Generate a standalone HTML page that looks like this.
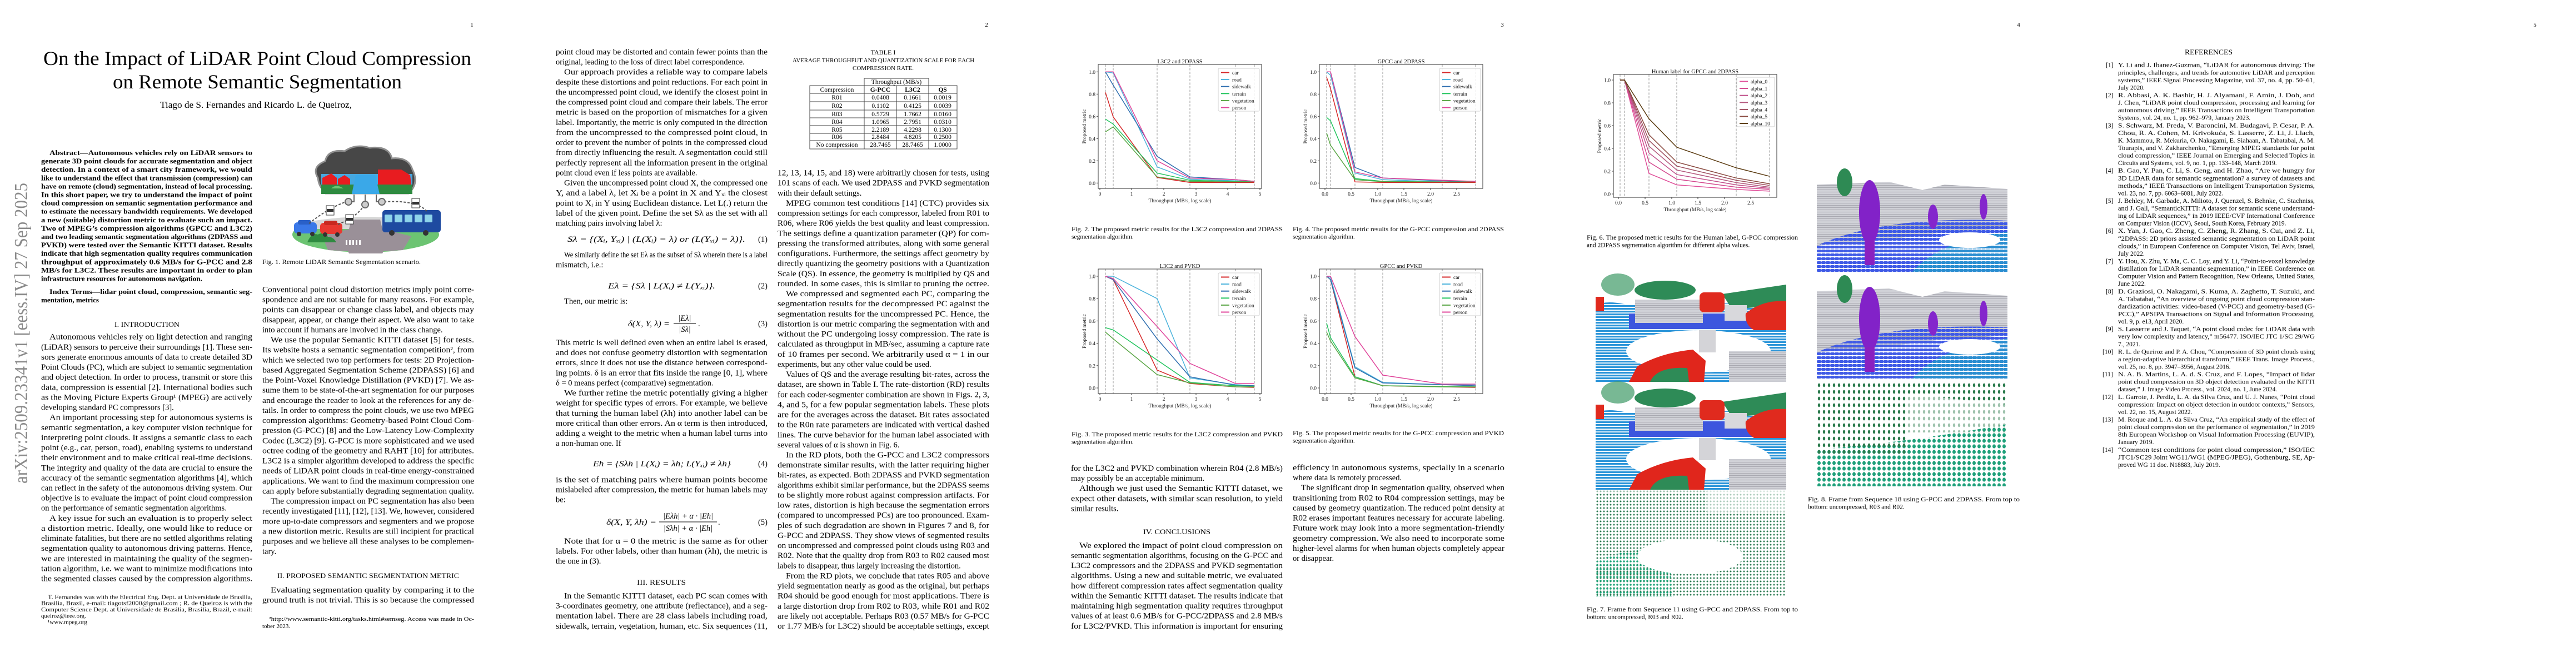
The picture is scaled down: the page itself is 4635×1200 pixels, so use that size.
<!DOCTYPE html>
<html><head><meta charset="utf-8">
<style>
html,body{margin:0;padding:0;background:#fff;}
body{width:4635px;height:1200px;overflow:hidden;}
svg{display:block;font-family:"Liberation Serif","DejaVu Serif",serif;}
</style></head>
<body>
<svg id="s" xmlns="http://www.w3.org/2000/svg" width="4635" height="1200" viewBox="0 0 4635 1200"></svg>
<script>
const S=[];
function esc(s){return s.replace(/&/g,'&amp;').replace(/</g,'&lt;').replace(/>/g,'&gt;');}
function t(x,y,s,fs,o){o=o||{};let a='<text x="'+x+'" y="'+y+'" font-size="'+fs+'"';
 if(o.w) a+=' textLength="'+o.w+'" lengthAdjust="spacingAndGlyphs"';
 if(o.anchor) a+=' text-anchor="'+o.anchor+'"';
 if(o.fw) a+=' font-weight="'+o.fw+'"';
 if(o.fill) a+=' fill="'+o.fill+'"';
 if(o.style) a+=' font-style="'+o.style+'"';
 if(o.ff) a+=' font-family="'+o.ff+'"';
 if(o.tr) a+=' transform="'+o.tr+'"';
 S.push(a+'>'+esc(s)+'</text>');}
function col(x,w,y0,dy,lines,fs,o){o=o||{};lines.forEach((l,i)=>{let ind=0,just=true;
 if(l[0]=='^'){ind=(o.ind||15);l=l.slice(1);} if(l.endsWith('$')){just=false;l=l.slice(0,-1);}
 const y=y0+i*dy+(o.bo===undefined?5:o.bo);
 t(x+ind,y,l,fs,Object.assign({},o,{w:just?w-ind:0}));});}
function P(s){S.push(s);}

[[849,'1'],[1775,'2'],[2703,'3'],[3632,'4'],[4561,'5']].forEach(p=>t(p[0],48,p[1],11,{anchor:'middle'}));
t(0,0,'arXiv:2509.23341v1  [eess.IV]  27 Sep 2025',34,{w:541,fill:'#8a8a8a',tr:'translate(49,870) rotate(-90)'});

t(78,117,'On the Impact of LiDAR Point Cloud Compression',36,{w:770});
t(203,159,'on Remote Semantic Segmentation',36,{w:520});
t(288,194,'Tiago de S. Fernandes and Ricardo L. de Queiroz,',16.5,{w:345});

col(74,380,275,15.1,[
'^Abstract—Autonomous vehicles rely on LiDAR sensors to',
'generate 3D point clouds for accurate segmentation and object',
'detection. In a context of a smart city framework, we would',
'like to understand the effect that transmission (compression) can',
'have on remote (cloud) segmentation, instead of local processing.',
'In this short paper, we try to understand the impact of point',
'cloud compression on semantic segmentation performance and',
'to estimate the necessary bandwidth requirements. We developed',
'a new (suitable) distortion metric to evaluate such an impact.',
'Two of MPEG\u2019s compression algorithms (GPCC and L3C2)',
'and two leading semantic segmentation algorithms (2DPASS and',
'PVKD) were tested over the Semantic KITTI dataset. Results',
'indicate that high segmentation quality requires communication',
'throughput of approximately 0.6 MB/s for G-PCC and 2.8',
'MB/s for L3C2. These results are important in order to plan',
'infrastructure resources for autonomous navigation.$'],13,{fw:'bold',bo:4});
col(74,380,525,15.1,['^Index Terms—lidar point cloud, compression, semantic seg-','mentation, metrics$'],13,{fw:'bold',bo:4});

t(206,588,'I. INTRODUCTION',13,{w:117});
col(74,380,605.7,18.12,[
'^Autonomous vehicles rely on light detection and ranging',
'(LiDAR) sensors to perceive their surroundings [1]. These sen-',
'sors generate enormous amounts of data to create detailed 3D',
'Point Clouds (PC), which are subject to semantic segmentation',
'and object detection. In order to process, transmit or store this',
'data, compression is essential [2]. International bodies such',
'as the Moving Picture Experts Group\u00b9 (MPEG) are actively',
'developing standard PC compressors [3].$',
'^An important processing step for autonomous systems is',
'semantic segmentation, a key computer vision technique for',
'interpreting point clouds. It assigns a semantic class to each',
'point (e.g., car, person, road), enabling systems to understand',
'their environment and to make critical real-time decisions.',
'The integrity and quality of the data are crucial to ensure the',
'accuracy of the semantic segmentation algorithms [4], which',
'can reflect in the safety of the autonomous driving system. Our',
'objective is to evaluate the impact of point cloud compression',
'on the performance of semantic segmentation algorithms.$',
'^A key issue for such an evaluation is to properly select',
'a distortion metric. Ideally, one would like to reduce or',
'eliminate fatalities, but there are no settled algorithms relating',
'segmentation quality to autonomous driving patterns. Hence,',
'we are interested in maintaining the quality of the segmen-',
'tation algorithm, i.e. we want to minimize modifications into',
'the segmented classes caused by the compression algorithms.'],14.5);
col(74,380,1073.4,11.3,[
'^T. Fernandes was with the Electrical Eng. Dept. at Universidade de Brasilia,',
'Brasilia, Brazil, e-mail: tiagotsf2000@gmail.com ; R. de Queiroz is with the',
'Computer Science Dept. at Universidade de Brasilia, Brasilia, Brazil, e-mail:',
'queiroz@ieee.org.$','^\u00b9www.mpeg.org$'],11,{bo:4,ind:12});

col(472,381,520.5,18.12,[
'Conventional point cloud distortion metrics imply point corre-',
'spondence and are not suitable for many reasons. For example,',
'points can disappear or change class label, and objects may',
'disappear, appear, or change their aspect. We also want to take',
'into account if humans are involved in the class change.$',
'^We use the popular Semantic KITTI dataset [5] for tests.',
'Its website hosts a semantic segmentation competition\u00b2, from',
'which we selected two top performers for tests: 2D Projection-',
'based Aggregated Segmentation Scheme (2DPASS) [6] and',
'the Point-Voxel Knowledge Distillation (PVKD) [7]. We as-',
'sume them to be state-of-the-art segmentation for our purposes',
'and encourage the reader to look at the references for any de-',
'tails. In order to compress the point clouds, we use two MPEG',
'compression algorithms: Geometry-based Point Cloud Com-',
'pression (G-PCC) [8] and the Low-Latency Low-Complexity',
'Codec (L3C2) [9]. G-PCC is more sophisticated and we used',
'octree coding of the geometry and RAHT [10] for attributes.',
'L3C2 is a simpler algorithm developed to address the specific',
'needs of LiDAR point clouds in real-time energy-constrained',
'applications. We want to find the maximum compression one',
'can apply before substantially degrading segmentation quality.',
'^The compression impact on PC segmentation has also been',
'recently investigated [11], [12], [13]. We, however, considered',
'more up-to-date compressors and segmenters and we propose',
'a new distortion metric. Results are still incipient for practical',
'purposes and we believe all these analyses to be complemen-',
'tary.$'],14.5);
t(499,1040,'II. PROPOSED SEMANTIC SEGMENTATION METRIC',13,{w:327});
col(472,381,1061,18.12,['^Evaluating segmentation quality by comparing it to the','ground truth is not trivial. This is so because the compressed'],14.5);
col(472,381,1113,13.2,['^\u00b2http://www.semantic-kitti.org/tasks.html#semseg. Access was made in Oc-','tober 2023.$'],11,{bo:4,ind:12});

P(`<g>
<ellipse cx="658" cy="422" rx="132" ry="32" fill="#6cc472"/>
<path d="M560 398 Q658 382 760 398 L770 412 L545 412 Z" fill="#d8d8d8"/>
<path d="M632 395 L684 395 L688 412 L740 425 L725 450 L690 452 L688 456 L628 456 L626 452 L590 450 L580 425 L628 412 Z" fill="#9a9098"/>
<g fill="#fff"><rect x="622" y="432" width="3" height="9"/><rect x="628" y="432" width="3" height="9"/><rect x="634" y="432" width="3" height="9"/><rect x="640" y="432" width="3" height="9"/><rect x="646" y="432" width="3" height="9"/></g>
<path d="M553 436 Q560 418 572 422 Q582 416 590 426 Q600 426 605 436 Z" fill="#2e8a40"/>
<rect x="529" y="400" width="41" height="20" rx="6" fill="#3a78e8"/><rect x="536" y="396" width="24" height="8" rx="3" fill="#2a60c8"/>
<circle cx="538" cy="421" r="4" fill="#333"/><circle cx="562" cy="421" r="4" fill="#333"/>
<rect x="576" y="401" width="40" height="20" rx="6" fill="#e83830"/><rect x="583" y="397" width="24" height="8" rx="3" fill="#c82820"/>
<circle cx="585" cy="422" r="4" fill="#333"/><circle cx="607" cy="422" r="4" fill="#333"/>
<rect x="688" y="378" width="105" height="40" rx="5" fill="#1e4aa0"/>
<g fill="#8ed4ea"><rect x="692" y="386" width="14" height="14" rx="2"/><rect x="710" y="386" width="14" height="14" rx="2"/><rect x="728" y="386" width="14" height="14" rx="2"/><rect x="746" y="386" width="14" height="14" rx="2"/><rect x="764" y="386" width="14" height="14" rx="2"/></g>
<circle cx="705" cy="419" r="5" fill="#333"/><circle cx="766" cy="419" r="5" fill="#333"/>
<path d="M585 348 L595 348 Q575 345 572 320 Q560 300 585 290 Q590 268 620 272 Q640 258 665 266 Q700 262 705 285 Q735 282 742 305 Q755 330 735 348 Z" fill="#474747" stroke="#8f8f8f" stroke-width="3"/>
<rect x="578" y="313" width="164" height="36" fill="#46a8e0"/>
<rect x="578" y="332" width="164" height="17" fill="#2e8a40"/>
<path d="M640 315 L675 315 L683 349 L633 349 Z" fill="#3aa8e8"/>
<path d="M580 320 L596 312 L606 320 L606 332 L580 332 Z" fill="#e81c20"/>
<path d="M608 322 L620 315 L630 322 L630 332 L608 332 Z" fill="#e81c20"/>
<path d="M680 305 L722 305 L738 315 L740 332 L680 332 Z" fill="#e81c20"/>
<path d="M596 339 Q605 330 618 339 Z" fill="#6cc472"/>
<g fill="none" stroke="#666" stroke-width="2"><circle cx="627" cy="363" r="6" fill="#ccc"/><circle cx="657" cy="368" r="6" fill="#ccc"/><circle cx="687" cy="363" r="6" fill="#ccc"/>
<path d="M637 350 L637 363 L633 363 M657 350 L657 362 M677 350 L677 363 L681 363"/></g>
<g fill="none" stroke="#555" stroke-width="2" stroke-dasharray="4,3"><path d="M556 402 Q590 375 620 364"/><path d="M608 404 Q640 390 652 374"/><path d="M768 380 Q750 360 694 363"/></g>
<g fill="#fff" stroke="#333" stroke-width="1"><rect x="587" y="370" width="14" height="17"/><rect x="622" y="386" width="14" height="17"/><rect x="741" y="357" width="14" height="17"/></g>
<g fill="#333"><rect x="588" y="376" width="12" height="5"/><rect x="623" y="392" width="12" height="5"/><rect x="742" y="363" width="12" height="5"/></g>
</g>`);
t(472,475,'Fig. 1.  Remote LiDAR Semantic Segmentation scenario.',11.5,{w:285});

col(1000,381,93,18.12,[
'point cloud may be distorted and contain fewer points than the',
'original, leading to the loss of direct label correspondence.$',
'^Our approach provides a reliable way to compare labels',
'despite these distortions and point reductions. For each point in',
'the uncompressed point cloud, we identify the closest point in',
'the compressed point cloud and compare their labels. The error',
'metric is based on the proportion of mismatches for a given',
'label. Importantly, the metric is only computed in the direction',
'from the uncompressed to the compressed point cloud, in',
'order to prevent the number of points in the compressed cloud',
'from directly influencing the result. A segmentation could still',
'perfectly represent all the information present in the original',
'point cloud even if less points are available.$',
'^Given the uncompressed point cloud X, the compressed one',
'Y, and a label \u03bb, let X\u1d62 be a point in X and Y\u2093\u1d62 the closest',
'point to X\u1d62 in Y using Euclidean distance. Let L(.) return the',
'label of the given point. Define the set S\u03bb as the set with all',
'matching pairs involving label \u03bb:$'],14.5);
t(1021,435,'S\u03bb = {(X\u1d62, Y\u2093\u1d62) | (L(X\u1d62) = \u03bb) or (L(Y\u2093\u1d62) = \u03bb)}.',14.5,{w:320,style:'italic'});
t(1364,435,'(1)',14.5);
col(1000,381,458,18.12,['^We similarly define the set E\u03bb as the subset of S\u03bb wherein there is a label','mismatch, i.e.:$'],14.5);
t(1094,519,'E\u03bb = {S\u03bb | L(X\u1d62) \u2260 L(Y\u2093\u1d62)}.',14.5,{w:193,style:'italic'});t(1364,519,'(2)',14.5);
col(1000,381,541.5,18.12,['^Then, our metric is:$'],14.5);
t(1130,587,'\u03b4(X, Y, \u03bb) =',14.5,{w:75,style:'italic'});
t(1232,577,'|E\u03bb|',14.5,{anchor:'middle',style:'italic'});P('<line x1="1212" y1="582" x2="1252" y2="582" stroke="#000"/>');
t(1232,597,'|S\u03bb|',14.5,{anchor:'middle',style:'italic'});t(1256,587,'.',14.5);t(1364,587,'(3)',14.5);
col(1000,381,616,18.12,[
'This metric is well defined even when an entire label is erased,',
'and does not confuse geometry distortion with segmentation',
'errors, since it does not use the distance between correspond-',
'ing points. \u03b4 is an error that fits inside the range [0, 1], where',
'\u03b4 = 0 means perfect (comparative) segmentation.$',
'^We further refine the metric potentially giving a higher',
'weight for specific types of errors. For example, we believe',
'that turning the human label (\u03bbh) into another label can be',
'more critical than other errors. An \u03b1 term is then introduced,',
'adding a weight to the metric when a human label turns into',
'a non-human one. If$'],14.5);
t(1067,839,'Eh = {S\u03bbh | L(X\u1d62) = \u03bbh; L(Y\u2093\u1d62) \u2260 \u03bbh}',14.5,{w:248,style:'italic'});t(1364,839,'(4)',14.5);
col(1000,381,862.5,18.12,['is the set of matching pairs where human points become','mislabeled after compression, the metric for human labels may','be:$'],14.5);
t(1091,944,'\u03b4(X, Y, \u03bbh) =',14.5,{w:90,style:'italic'});
t(1238,933,'|E\u03bbh| + \u03b1 \u00b7 |Eh|',14.5,{anchor:'middle',style:'italic'});P('<line x1="1186" y1="939" x2="1290" y2="939" stroke="#000"/>');
t(1238,955,'|S\u03bbh| + \u03b1 \u00b7 |Eh|',14.5,{anchor:'middle',style:'italic'});t(1292,944,'.',14.5);t(1364,944,'(5)',14.5);
col(1000,381,973,18.12,['^Note that for \u03b1 = 0 the metric is the same as for other','labels. For other labels, other than human (\u03bbh), the metric is','the one in (3).$'],14.5);
t(1146,1052,'III. RESULTS',13,{w:88});
col(1000,381,1071.5,18.12,['^In the Semantic KITTI dataset, each PC scan comes with','3-coordinates geometry, one attribute (reflectance), and a seg-','mentation label. There are 28 class labels including road,','sidewalk, terrain, vegetation, human, etc. Six sequences (11,'],14.5);

t(1589,98,'TABLE I',12,{anchor:'middle'});
t(1426,112,'AVERAGE THROUGHPUT AND QUANTIZATION SCALE FOR EACH',11,{w:327});
t(1589,126,'COMPRESSION RATE.',11,{anchor:'middle'});
P('<g stroke="#444" stroke-width="1" fill="none"><rect x="1555" y="141" width="116" height="13"/><rect x="1457" y="154" width="265" height="114"/>'+
[168,183,198,212,226,240,253].map(y=>`<line x1="1457" y1="${y}" x2="1722" y2="${y}"/>`).join('')+
[1555,1613,1671].map(x=>`<line x1="${x}" y1="154" x2="${x}" y2="268"/>`).join('')+'</g>');
t(1613,151,'Throughput (MB/s)',11.5,{anchor:'middle'});
const rows=[['Compression','G-PCC','L3C2','QS'],['R01','0.0408','0.1661','0.0019'],['R02','0.1102','0.4125','0.0039'],['R03','0.5729','1.7662','0.0160'],['R04','1.0965','2.7951','0.0310'],['R05','2.2189','4.2298','0.1300'],['R06','2.8484','4.8205','0.2500'],['No compression','28.7465','28.7465','1.0000']];
const ry=[165,179,194,209,223,237,250,264];const cx=[1506,1584,1642,1696];
rows.forEach((r,i)=>r.forEach((c,j)=>t(cx[j],ry[i],c,11.5,{anchor:'middle',fw:(i==0&&j>0)?'bold':''})));

col(1399,381,310.4,18.3,['12, 13, 14, 15, and 18) were arbitrarily chosen for tests, using','101 scans of each. We used 2DPASS and PVKD segmentation','with their default settings.$'],14.5);
col(1399,381,365,18.12,[
'^MPEG common test conditions [14] (CTC) provides six',
'compression settings for each compressor, labeled from R01 to',
'R06, where R06 yields the best quality and least compression.',
'The settings define a quantization parameter (QP) for com-',
'pressing the transformed attributes, along with some general',
'configurations. Furthermore, the settings affect geometry by',
'directly quantizing the geometry positions with a Quantization',
'Scale (QS). In essence, the geometry is multiplied by QS and',
'rounded. In some cases, this is similar to pruning the octree.',
'^We compressed and segmented each PC, comparing the',
'segmentation results for the decompressed PC against the',
'segmentation results for the uncompressed PC. Hence, the',
'distortion is our metric comparing the segmentation with and',
'without the PC undergoing lossy compression. The rate is',
'calculated as throughput in MB/sec, assuming a capture rate',
'of 10 frames per second. We arbitrarily used \u03b1 = 1 in our',
'experiments, but any other value could be used.$',
'^Values of QS and the average resulting bit-rates, across the',
'dataset, are shown in Table I. The rate-distortion (RD) results',
'for each coder-segmenter combination are shown in Figs. 2, 3,',
'4, and 5, for a few popular segmentation labels. These plots',
'are for the averages across the dataset. Bit rates associated',
'to the R0n rate parameters are indicated with vertical dashed',
'lines. The curve behavior for the human label associated with',
'several values of \u03b1 is shown in Fig. 6.$',
'^In the RD plots, both the G-PCC and L3C2 compressors',
'demonstrate similar results, with the latter requiring higher',
'bit-rates, as expected. Both 2DPASS and PVKD segmentation',
'algorithms exhibit similar performance, but the 2DPASS seems',
'to be slightly more robust against compression artifacts. For',
'low rates, distortion is high because the segmentation errors',
'(compared to uncompressed PCs) are too pronounced. Exam-',
'ples of such degradation are shown in Figures 7 and 8, for',
'G-PCC and 2DPASS. They show views of segmented results',
'on uncompressed and compressed point clouds using R03 and',
'R02. Note that the quality drop from R03 to R02 caused most',
'labels to disappear, thus largely increasing the distortion.$',
'^From the RD plots, we conclude that rates R05 and above',
'yield segmentation nearly as good as the original, but perhaps',
'R04 should be good enough for most applications. There is',
'a large distortion drop from R02 to R03, while R01 and R02',
'are likely not acceptable. Perhaps R03 (0.57 MB/s for G-PCC',
'or 1.77 MB/s for L3C2) should be acceptable settings, except'],14.5);

function chart(c){
 const [x0,y0,x1,y1]=c.box, yz=c.yz, yo=c.yo, V=v=>yz-(yz-yo)*v;
 let g='<g>';
 c.xs.forEach(x=>g+=`<line x1="${x}" y1="${y0}" x2="${x}" y2="${y1}" stroke="#8a8a8a" stroke-width="0.9" stroke-dasharray="4,2.5"/>`);
 c.series.forEach((s,i)=>{g+=`<polyline fill="none" stroke="${s[0]}" stroke-width="1.5" points="${s[1].map((v,k)=>c.xs[k]+','+V(v).toFixed(1)).join(' ')}"/>`;});
 g+=`<rect x="${x0}" y="${y0}" width="${x1-x0}" height="${y1-y0}" fill="none" stroke="#333" stroke-width="1"/>`;
 const L=c.leg;g+=`<rect x="${L[0]}" y="${L[1]}" width="${L[2]}" height="${L[3]}" rx="2" fill="#fff" fill-opacity="0.85" stroke="#d0d0d0"/>`;
 c.series.forEach((s,i)=>{const y=L[1]+7.5+i*12.6;g+=`<line x1="${L[0]+5}" y1="${y}" x2="${L[0]+20}" y2="${y}" stroke="${s[0]}" stroke-width="2"/>`;});
 for(let k=0;k<=5;k++){const y=V(k/5);g+=`<line x1="${x0-3}" y1="${y}" x2="${x0}" y2="${y}" stroke="#333"/>`;}
 c.xt.forEach(p=>g+=`<line x1="${p[0]}" y1="${y1}" x2="${p[0]}" y2="${y1+3}" stroke="#333"/>`);
 P(g+'</g>');
 const ff='"DejaVu Sans","Liberation Sans",sans-serif';
 for(let k=0;k<=5;k++){t(x0-5,V(k/5)+3.5,(k/5).toFixed(1),9.5,{anchor:'end',ff:ff,fill:'#222'});}
 c.xt.forEach(p=>t(p[0],y1+13,p[1],9.5,{anchor:'middle',ff:ff,fill:'#222'}));
 t((x0+x1)/2,y1+25,'Throughput (MB/s, log scale)',9.5,{anchor:'middle',ff:ff,fill:'#222'});
 t(0,0,'Proposed metric',9.5,{anchor:'middle',ff:ff,fill:'#222',tr:`translate(${x0-22},${(y0+y1)/2}) rotate(-90)`});
 t((x0+x1)/2,y0-2,c.title,10.5,{anchor:'middle',ff:ff,fill:'#111'});
 c.names.forEach((n,i)=>t(L[0]+25,L[1]+11+i*12.6,n,9.5,{ff:ff,fill:'#222'}));
}
const C={car:'#d62728',road:'#4cb3dc',side:'#2f6fb0',ter:'#22c55e',veg:'#5aa645',per:'#e0459b'};
const N6=['car','road','sidewalk','terrain','vegetation','person'];
const xsA=[1989,2003,2082,2141,2223,2257],xtA=[[1979,'0'],[2036,'1'],[2094,'2'],[2152,'3'],[2209,'4'],[2267,'5']];
const xsB=[2387,2394,2438,2488,2595,2655],xtB=[[2384,'0.0'],[2431,'0.5'],[2479,'1.0'],[2526,'1.5'],[2574,'2.0'],[2621,'2.5']];
chart({box:[1976,116,2270,339],yz:329.3,yo:129.3,xs:xsA,xt:xtA,title:'L3C2 and 2DPASS',leg:[2192,123,74,77],names:N6,series:[
 [C.car,[0.815,0.595,0.05,0.005,0.005,0.005]],[C.road,[1.0,0.99,0.145,0.035,0.02,0.01]],[C.side,[1.0,0.88,0.24,0.055,0.03,0.015]],
 [C.ter,[0.575,0.53,0.09,0.025,0.015,0.01]],[C.veg,[0.46,0.505,0.055,0.015,0.01,0.01]],[C.per,[1.0,1.0,0.2,0.045,0.03,0.015]]]});
chart({box:[1976,484,2270,708],yz:698,yo:497,xs:xsA,xt:xtA,title:'L3C2 and PVKD',leg:[2192,491,74,77],names:N6,series:[
 [C.car,[1.0,0.97,0.16,0.04,0.01,0.005]],[C.road,[1.0,1.0,0.8,0.09,0.03,0.02]],[C.side,[1.0,0.97,0.44,0.1,0.025,0.02]],
 [C.ter,[0.54,0.52,0.25,0.05,0.02,0.015]],[C.veg,[0.5,0.44,0.12,0.045,0.01,0.01]],[C.per,[1.0,0.98,0.55,0.22,0.04,0.04]]]});
chart({box:[2374,116,2668,339],yz:329.3,yo:129.3,xs:xsB,xt:xtB,title:'GPCC and 2DPASS',leg:[2590,123,74,77],names:N6,series:[
 [C.car,[0.95,0.85,0.01,0.005,0.005,0.005]],[C.road,[1.0,0.97,0.09,0.03,0.012,0.01]],[C.side,[1.0,1.0,0.14,0.045,0.02,0.01]],
 [C.ter,[0.59,0.56,0.04,0.015,0.01,0.01]],[C.veg,[0.45,0.34,0.03,0.012,0.01,0.01]],[C.per,[1.0,1.0,0.1,0.045,0.025,0.015]]]});
chart({box:[2374,484,2668,708],yz:698,yo:497,xs:xsB,xt:xtB,title:'GPCC and PVKD',leg:[2590,491,74,77],names:N6,series:[
 [C.car,[1.0,0.97,0.1,0.02,0.01,0.005]],[C.road,[1.0,0.99,0.19,0.05,0.03,0.03]],[C.side,[1.0,0.97,0.18,0.045,0.03,0.02]],
 [C.ter,[0.58,0.45,0.1,0.02,0.015,0.01]],[C.veg,[0.5,0.42,0.09,0.02,0.01,0.01]],[C.per,[1.0,1.0,0.46,0.115,0.035,0.035]]]});
chart({box:[2903,134,3197,355],yz:349,yo:144,xs:[2915,2923,2967,3017,3124,3184],xt:[[2912,'0.0'],[2960,'0.5'],[3008,'1.0'],[3055,'1.5'],[3103,'2.0'],[3150,'2.5']],
 title:'Human label for GPCC and 2DPASS',leg:[3125,139,68,89],names:['alpha_0','alpha_1','alpha_2','alpha_3','alpha_4','alpha_5','alpha_10'],series:[
 ['#e0509a',[1,1,0.18,0.08,0.04,0.025]],['#d4488e',[1,1,0.28,0.13,0.06,0.04]],['#c0508a',[1,1,0.36,0.17,0.08,0.05]],['#b45a7e',[1,1,0.42,0.21,0.1,0.06]],
 ['#9e5060',[1,1,0.47,0.245,0.12,0.075]],['#8a4a40',[1,1,0.52,0.28,0.14,0.09]],['#5a3a10',[1,1,0.66,0.41,0.23,0.155]]]});

function cap(x,w,y,l1,l2){col(x,w,y,13.5,[l1,l2+'$'],11.5,{bo:4});}
cap(1928,380,412,'Fig. 2.  The proposed metric results for the L3C2 compression and 2DPASS','segmentation algorithm.');
cap(1928,380,781,'Fig. 3.  The proposed metric results for the L3C2 compression and PVKD','segmentation algorithm.');
cap(2326,380,412,'Fig. 4.  The proposed metric results for the G-PCC compression and 2DPASS','segmentation algorithm.');
cap(2326,380,779,'Fig. 5.  The proposed metric results for the G-PCC compression and PVKD','segmentation algorithm.');
cap(2855,380,427,'Fig. 6.  The proposed metric results for the Human label, G-PCC compression','and 2DPASS segmentation algorithm for different alpha values.');
cap(2855,380,1096,'Fig. 7.  Frame from Sequence 11 using G-PCC and 2DPASS. From top to','bottom: uncompressed, R03 and R02.');
cap(3253,381,898,'Fig. 8.  Frame from Sequence 18 using G-PCC and 2DPASS. From top to','bottom: uncompressed, R03 and R02.');

col(1927,381,842,18.12,['for the L3C2 and PVKD combination wherein R04 (2.8 MB/s)','may possibly be an acceptable minimum.$','^Although we just used the Semantic KITTI dataset, we','expect other datasets, with similar scan resolution, to yield','similar results.$'],14.5);
t(2057,961,'IV. CONCLUSIONS',13,{w:121});
col(1927,381,980.8,18.12,['^We explored the impact of point cloud compression on','semantic segmentation algorithms, focusing on the G-PCC and','L3C2 compressors and the 2DPASS and PVKD segmentation','algorithms. Using a new and suitable metric, we evaluated','how different compression rates affect segmentation quality','within the Semantic KITTI dataset. The results indicate that','maintaining high segmentation quality requires throughput','values of at least 0.6 MB/s for G-PCC/2DPASS and 2.8 MB/s','for L3C2/PVKD. This information is important for ensuring'],14.5);
col(2326,381,841,18.12,['efficiency in autonomous systems, specially in a scenario','where data is remotely processed.$','^The significant drop in segmentation quality, observed when','transitioning from R02 to R04 compression settings, may be','caused by geometry quantization. The reduced point density at','R02 erases important features necessary for accurate labeling.','Future work may look into a more segmentation-friendly','geometry compression. We also need to incorporate some','higher-level alarms for when human objects completely appear','or disappear.$'],14.5);

P(`<defs>
<pattern id="dg" width="6" height="6" patternUnits="userSpaceOnUse"><circle cx="3" cy="3" r="1.5" fill="#2f7d55"/></pattern>
<pattern id="dt" width="6" height="7" patternUnits="userSpaceOnUse"><circle cx="3" cy="3" r="1.8" fill="#1fa57a"/></pattern>
<pattern id="dg2" width="9" height="12" patternUnits="userSpaceOnUse"><ellipse cx="4" cy="5" rx="2.2" ry="3.4" fill="#2a7a4c"/></pattern>
<pattern id="dt2" width="9" height="10" patternUnits="userSpaceOnUse"><ellipse cx="4" cy="5" rx="3" ry="3.6" fill="#1ea07a"/></pattern>
<pattern id="gr" width="5" height="4" patternUnits="userSpaceOnUse"><rect width="5" height="4" fill="#cfd0d6"/><rect y="3" width="5" height="1" fill="#a8a8b0"/></pattern>
<pattern id="bl" width="6" height="5" patternUnits="userSpaceOnUse"><rect width="6" height="3.2" fill="#2a94d8"/></pattern>
<pattern id="bd" width="8" height="7" patternUnits="userSpaceOnUse"><rect width="8" height="5" rx="2" fill="#3f5ae6"/></pattern>
<pattern id="bc" width="8" height="7" patternUnits="userSpaceOnUse"><rect width="8" height="5" rx="2" fill="#2a8ed0"/></pattern>
</defs>`);
function f7(x,y){P(`<g transform="translate(${x},${y})">
<path d="M0 55 Q20 45 60 55 L343 50 L343 193 L0 193 Z" fill="url(#bl)"/>
<rect x="60" y="70" width="250" height="28" fill="#3c56de"/>
<ellipse cx="185" cy="138" rx="130" ry="38" fill="#fff"/>
<ellipse cx="40" cy="18" rx="30" ry="20" fill="#3e9a66" fill-opacity="0.7"/>
<ellipse cx="125" cy="28" rx="55" ry="17" fill="#2e8b57"/>
<path d="M228 35 L343 18 L343 55 L245 62 Z" fill="#2e8b57"/>
<rect x="71" y="45" width="122" height="42" fill="url(#gr)"/>
<rect x="232" y="55" width="40" height="28" fill="#d8d8dc"/>
<rect x="187" y="32" width="45" height="36" rx="8" fill="#e02a1e"/>
<path d="M270 70 Q300 45 343 48 L343 100 L285 100 Q268 90 270 70 Z" fill="#e02a1e"/>
<rect x="0" y="40" width="15" height="26" fill="#e02a1e"/>
<path d="M60 193 L75 165 Q120 140 175 135 L198 155 L195 193 Z" fill="#e0261c"/>
<path d="M98 193 Q110 165 165 168 L168 193 Z" fill="#2e8b57"/>
<rect x="240" y="138" width="103" height="55" fill="url(#gr)"/>
<rect x="186" y="100" width="30" height="40" fill="#d4d4d8"/>
</g>`);}
f7(2871,494);f7(2871,688);
P(`<g transform="translate(2871,881)"><rect width="343" height="192" fill="url(#dg)"/>
<path d="M0 130 Q60 100 130 110 L140 192 L0 192 Z" fill="url(#dt)"/>
<rect x="200" y="0" width="143" height="40" fill="#fff" fill-opacity="0.6"/>
<ellipse cx="170" cy="120" rx="95" ry="32" fill="#fff"/>
<rect x="0" y="0" width="343" height="6" fill="#fff" fill-opacity="0.5"/></g>`);

function f8(x,y){P(`<g transform="translate(${x},${y})">
<path d="M0 30 L130 25 L190 40 L230 30 L343 38 L343 110 L240 115 L120 130 L0 140 Z" fill="url(#gr)"/>
<path d="M0 140 Q120 85 343 95 L343 189 L0 189 Z" fill="url(#bd)"/>
<path d="M170 189 Q220 130 343 115 L343 189 Z" fill="url(#bc)"/>
<ellipse cx="275" cy="130" rx="55" ry="14" fill="#fff"/>
<ellipse cx="50" cy="26" rx="14" ry="25" fill="#2e8a54"/>
<ellipse cx="95" cy="80" rx="19" ry="58" fill="#8222c8"/>
<rect x="86" y="130" width="18" height="45" fill="#8a20c0"/>
<ellipse cx="209" cy="88" rx="9" ry="22" fill="#8426cc"/>
<ellipse cx="300" cy="70" rx="7" ry="23" fill="#8426cc"/>
</g>`);}
f8(3269,302);f8(3269,494);
P(`<g transform="translate(3269,688)"><rect width="343" height="90" fill="url(#dg2)"/>
<path d="M160 20 L343 40 L343 90 L160 90 Z" fill="#fff" fill-opacity="0.55"/>
<path d="M0 187 L0 120 Q150 110 343 75 L343 187 Z" fill="url(#dt2)"/>
<rect x="0" y="90" width="160" height="40" fill="url(#dg2)"/></g>`);

t(3931,98,'REFERENCES',13,{w:86});
const R=[
['[1]','Y. Li and J. Ibanez-Guzman, \u201cLiDAR for autonomous driving: The'],['','principles, challenges, and trends for automotive LiDAR and perception'],['','systems,\u201d IEEE Signal Processing Magazine, vol. 37, no. 4, pp. 50\u201361,'],['','July 2020.$'],
['[2]','R. Abbasi, A. K. Bashir, H. J. Alyamani, F. Amin, J. Doh, and'],['','J. Chen, \u201cLiDAR point cloud compression, processing and learning for'],['','autonomous driving,\u201d IEEE Transactions on Intelligent Transportation'],['','Systems, vol. 24, no. 1, pp. 962\u2013979, January 2023.$'],
['[3]','S. Schwarz, M. Preda, V. Baroncini, M. Budagavi, P. Cesar, P. A.'],['','Chou, R. A. Cohen, M. Krivoku\u0107a, S. Lasserre, Z. Li, J. Llach,'],['','K. Mammou, R. Mekuria, O. Nakagami, E. Siahaan, A. Tabatabai, A. M.'],['','Tourapis, and V. Zakharchenko, \u201cEmerging MPEG standards for point'],['','cloud compression,\u201d IEEE Journal on Emerging and Selected Topics in'],['','Circuits and Systems, vol. 9, no. 1, pp. 133\u2013148, March 2019.$'],
['[4]','B. Gao, Y. Pan, C. Li, S. Geng, and H. Zhao, \u201cAre we hungry for'],['','3D LiDAR data for semantic segmentation? a survey of datasets and'],['','methods,\u201d IEEE Transactions on Intelligent Transportation Systems,'],['','vol. 23, no. 7, pp. 6063\u20136081, July 2022.$'],
['[5]','J. Behley, M. Garbade, A. Milioto, J. Quenzel, S. Behnke, C. Stachniss,'],['','and J. Gall, \u201cSemanticKITTI: A dataset for semantic scene understand-'],['','ing of LiDAR sequences,\u201d in 2019 IEEE/CVF International Conference'],['','on Computer Vision (ICCV), Seoul, South Korea, February 2019.$'],
['[6]','X. Yan, J. Gao, C. Zheng, C. Zheng, R. Zhang, S. Cui, and Z. Li,'],['','\u201c2DPASS: 2D priors assisted semantic segmentation on LiDAR point'],['','clouds,\u201d in European Conference on Computer Vision, Tel Aviv, Israel,'],['','July 2022.$'],
['[7]','Y. Hou, X. Zhu, Y. Ma, C. C. Loy, and Y. Li, \u201cPoint-to-voxel knowledge'],['','distillation for LiDAR semantic segmentation,\u201d in IEEE Conference on'],['','Computer Vision and Pattern Recognition, New Orleans, United States,'],['','June 2022.$'],
['[8]','D. Graziosi, O. Nakagami, S. Kuma, A. Zaghetto, T. Suzuki, and'],['','A. Tabatabai, \u201cAn overview of ongoing point cloud compression stan-'],['','dardization activities: video-based (V-PCC) and geometry-based (G-'],['','PCC),\u201d APSIPA Transactions on Signal and Information Processing,'],['','vol. 9, p. e13, April 2020.$'],
['[9]','S. Lasserre and J. Taquet, \u201cA point cloud codec for LiDAR data with'],['','very low complexity and latency,\u201d m56477. ISO/IEC JTC 1/SC 29/WG'],['','7., 2021.$'],
['[10]','R. L. de Queiroz and P. A. Chou, \u201cCompression of 3D point clouds using'],['','a region-adaptive hierarchical transform,\u201d IEEE Trans. Image Process.,'],['','vol. 25, no. 8, pp. 3947\u20133956, August 2016.$'],
['[11]','N. A. B. Martins, L. A. d. S. Cruz, and F. Lopes, \u201cImpact of lidar'],['','point cloud compression on 3D object detection evaluated on the KITTI'],['','dataset,\u201d J. Image Video Process., vol. 2024, no. 1, June 2024.$'],
['[12]','L. Garrote, J. Perdiz, L. A. da Silva Cruz, and U. J. Nunes, \u201cPoint cloud'],['','compression: Impact on object detection in outdoor contexts,\u201d Sensors,'],['','vol. 22, no. 15, August 2022.$'],
['[13]','M. Roque and L. A. da Silva Cruz, \u201cAn empirical study of the effect of'],['','point cloud compression on the performance of segmentation,\u201d in 2019'],['','8th European Workshop on Visual Information Processing (EUVIP),'],['','January 2019.$'],
['[14]','\u201cCommon test conditions for point cloud compression,\u201d ISO/IEC'],['','JTC1/SC29 Joint WG11/WG1 (MPEG/JPEG), Gothenburg, SE, Ap-'],['','proved WG 11 doc. N18883, July 2019.$']];
R.forEach((r,i)=>{const y=116.7+i*13.57+4;if(r[0])t(r[0].length>3?3783:3789,y,r[0],11.5);
 let s=r[1],j=true;if(s.endsWith('$')){s=s.slice(0,-1);j=false;}t(3811,y,s,11.5,{w:j?354:0});});

document.getElementById('s').innerHTML=S.join('');
</script>
</body></html>
